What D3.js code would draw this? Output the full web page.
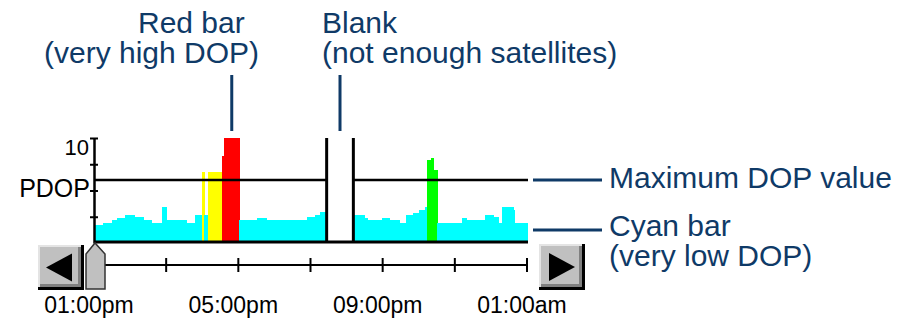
<!DOCTYPE html>
<html>
<head>
<meta charset="utf-8">
<script src="https://cdn.jsdelivr.net/npm/d3@7"></script>
<style>
  html, body { margin: 0; padding: 0; background: #ffffff; }
  svg { display: block; }
</style>
</head>
<body>
<svg id="chart" width="902" height="323"></svg>
<script>
// ---------- DATA ----------
// Step segments: start time in hours after 01:00pm, PDOP value, colour class
const segStart = [0.00, 0.23, 0.46, 0.60, 0.83, 1.11, 1.34, 1.57, 1.85, 2.00,
                  2.54, 2.77, 2.96, 3.03, 3.12, 3.51, 3.58, 4.00, 4.48, 4.76,
                  5.87, 6.10, 6.24, 6.42, 7.16, 7.48, 7.57, 7.95, 8.18, 8.45,
                  8.62, 8.82, 8.98, 9.15, 9.21, 9.31, 9.40, 9.49, 10.16, 10.30,
                  10.81, 11.04, 11.18, 11.27, 11.59, 11.64];
const segValue = [1.70, 1.95, 2.20, 2.40, 2.65, 2.45, 2.20, 1.95, 3.45, 2.20,
                  1.95, 2.65, 6.80, 2.65, 6.80, 8.30, 10.5, 2.20, 2.40, 2.20,
                  2.45, 2.65, 3.00, null, 2.65, 2.40, 2.20, 2.40, 2.20, 1.95,
                  2.65, 2.90, 3.15, 3.40, 7.90, 8.05, 7.00, 1.95, 2.40, 2.20,
                  2.65, 2.45, 1.95, 3.45, 3.15, 1.95];
const segClass = ["cyan","cyan","cyan","cyan","cyan","cyan","cyan","cyan","cyan","cyan",
                  "cyan","cyan","yellow","cyan","yellow","red","red","cyan","cyan","cyan",
                  "cyan","cyan","cyan","blank","cyan","cyan","cyan","cyan","cyan","cyan",
                  "cyan","cyan","cyan","cyan","green","green","green","cyan","cyan","cyan",
                  "cyan","cyan","cyan","cyan","cyan","cyan"];
const endHour = 12;
const maxDop = 6;
const yTickValues = [2.5, 5, 7.5, 10];
const timeTickHours = [0, 2, 4, 6, 8, 10, 12];
const timeLabelHours = [0, 4, 8, 12];
const timeLabels = ["01:00pm", "05:00pm", "09:00pm", "01:00am"];

const annotations = [
  { lines: ["Red bar", "(very high DOP)"], xs: [138, 44], y: 33 },
  { lines: ["Blank", "(not enough satellites)"], xs: [322, 322], y: 33 },
  { lines: ["Maximum DOP value"], xs: [609], y: 188 },
  { lines: ["Cyan bar", "(very low DOP)"], xs: [609, 609], y: 236 }
];

// ---------- SETUP ----------
const colors = { cyan: "#00ffff", yellow: "#ffff00", red: "#ff0000", green: "#00ff00" };
const navy = "#0f3a67";
const svg = d3.select("#chart");

const x = d3.scaleLinear().domain([0, endHour]).range([95, 528]);
const y = d3.scaleLinear().domain([0, 10]).range([243, 138]).clamp(true);

const segs = segStart.map((s, i) => ({
  s, e: i < segStart.length - 1 ? segStart[i + 1] : endHour,
  v: segValue[i], c: segClass[i]
}));

// bars
svg.append("g").selectAll("rect")
  .data(segs.filter(d => d.v !== null))
  .join("rect")
  .attr("x", d => x(d.s))
  .attr("width", d => x(d.e) - x(d.s) + 0.3)
  .attr("y", d => y(d.v))
  .attr("height", d => y(0) - y(d.v))
  .attr("fill", d => colors[d.c])
  .attr("shape-rendering", "crispEdges");

// max DOP line broken by blank periods
const blanks = segs.filter(d => d.c === "blank");
const pieces = [];
let cur = 0;
blanks.forEach(b => { pieces.push([cur, b.s]); cur = b.e; });
pieces.push([cur, endHour]);
svg.append("g").selectAll("line")
  .data(pieces)
  .join("line")
  .attr("x1", d => x(d[0])).attr("x2", d => x(d[1]))
  .attr("y1", y(maxDop)).attr("y2", y(maxDop))
  .attr("stroke", "#000").attr("stroke-width", 2.5);

// blank borders
svg.append("g").selectAll("line")
  .data(blanks.flatMap(b => [b.s, b.e]))
  .join("line")
  .attr("x1", d => x(d)).attr("x2", d => x(d))
  .attr("y1", y(10)).attr("y2", y(0) - 1)
  .attr("stroke", "#000").attr("stroke-width", 3);

// baseline
svg.append("line")
  .attr("x1", x(0) - 1).attr("x2", x(endHour))
  .attr("y1", y(0) - 1).attr("y2", y(0) - 1)
  .attr("stroke", "#000").attr("stroke-width", 3);

// y axis (ticks on both sides)
const yAxisG = svg.append("g").attr("transform", `translate(${x(0) - 1},0)`);
yAxisG.call(d3.axisLeft(y).tickValues(yTickValues).tickSize(4).tickSizeOuter(0).tickFormat(""));
const yAxisG2 = svg.append("g").attr("transform", `translate(${x(0) - 1},0)`);
yAxisG2.call(d3.axisRight(y).tickValues(yTickValues).tickSize(4).tickSizeOuter(0).tickFormat(""));
yAxisG2.select(".domain").remove();
svg.selectAll(".tick line").attr("stroke", "#000").attr("stroke-width", 2);
yAxisG.select(".domain").attr("stroke", "#000").attr("stroke-width", 2.5);

// y labels
const pixFont = "'Liberation Sans', Arial, sans-serif";
svg.append("text").attr("x", 89).attr("y", y(10) + 17)
  .attr("text-anchor", "end").attr("font-family", pixFont).attr("font-size", 22)
  .attr("fill", "#000").text("10");
svg.append("text").attr("x", 90).attr("y", y(5) + 6)
  .attr("text-anchor", "end").attr("font-family", pixFont).attr("font-size", 25)
  .attr("fill", "#000").text("PDOP");

// ---------- SLIDER ----------
const lineY = 265;
svg.append("line")
  .attr("x1", x(0)).attr("x2", x(endHour))
  .attr("y1", lineY).attr("y2", lineY)
  .attr("stroke", "#000").attr("stroke-width", 2);
svg.append("g").selectAll("line")
  .data(timeTickHours.filter(h => h > 0))
  .join("line")
  .attr("x1", d => x(d) - 1).attr("x2", d => x(d) - 1)
  .attr("y1", lineY - 7).attr("y2", lineY + 7)
  .attr("stroke", "#000").attr("stroke-width", 2);

function button(x0, y0, w, h, dir) {
  const g = svg.append("g");
  g.append("rect").attr("x", x0).attr("y", y0).attr("width", w).attr("height", h).attr("fill", "#000");
  g.append("rect").attr("x", x0).attr("y", y0).attr("width", w - 3).attr("height", h - 3).attr("fill", "#e4e4e4");
  g.append("rect").attr("x", x0 + 2).attr("y", y0 + 2).attr("width", w - 5).attr("height", h - 5).attr("fill", "#808080");
  g.append("rect").attr("x", x0 + 2).attr("y", y0 + 2).attr("width", w - 8).attr("height", h - 8).attr("fill", "#c0c0c0");
  const cx = x0 + w / 2 - 1, cy = y0 + h / 2;
  const pts = dir < 0
    ? [[cx - 14, cy], [cx + 12, cy - 14], [cx + 12, cy + 14]]
    : [[cx + 14, cy], [cx - 12, cy - 14], [cx - 12, cy + 14]];
  g.append("polygon").attr("points", pts.map(p => p.join(",")).join(" ")).attr("fill", "#000");
}
button(38, 245, 46, 45, -1);
button(539, 244, 46, 46, 1);

// thumb
const tx = x(0);
svg.append("polygon")
  .attr("points", [[tx - 9, 289], [tx - 9, 254], [tx, 243], [tx + 10, 254], [tx + 10, 289]].map(p => p.join(",")).join(" "))
  .attr("fill", "#c0c0c0").attr("stroke", "#333").attr("stroke-width", 1.5);

// time labels
svg.append("g").selectAll("text")
  .data(timeLabelHours)
  .join("text")
  .attr("x", d => x(d) - 6)
  .attr("y", 313)
  .attr("text-anchor", "middle")
  .attr("font-family", pixFont).attr("font-size", 23)
  .attr("fill", "#000")
  .text((d, i) => timeLabels[i]);

// ---------- ANNOTATIONS ----------
const annoFont = "'Liberation Sans', Arial, sans-serif";
annotations.forEach(a => {
  a.lines.forEach((t, i) => {
    svg.append("text").attr("x", a.xs[i]).attr("y", a.y + i * 30)
      .attr("font-family", annoFont).attr("font-size", 30)
      .attr("fill", navy).text(t);
  });
});
// leader lines
const leaders = [
  [x(3.79), 75, x(3.79), 131],
  [x((6.42 + 7.16) / 2), 75, x((6.42 + 7.16) / 2), 131],
  [533, y(maxDop), 602, y(maxDop)],
  [533, 230, 602, 230]
];
svg.append("g").selectAll("line")
  .data(leaders)
  .join("line")
  .attr("x1", d => d[0]).attr("y1", d => d[1])
  .attr("x2", d => d[2]).attr("y2", d => d[3])
  .attr("stroke", navy).attr("stroke-width", 3);
</script>
</body>
</html>
